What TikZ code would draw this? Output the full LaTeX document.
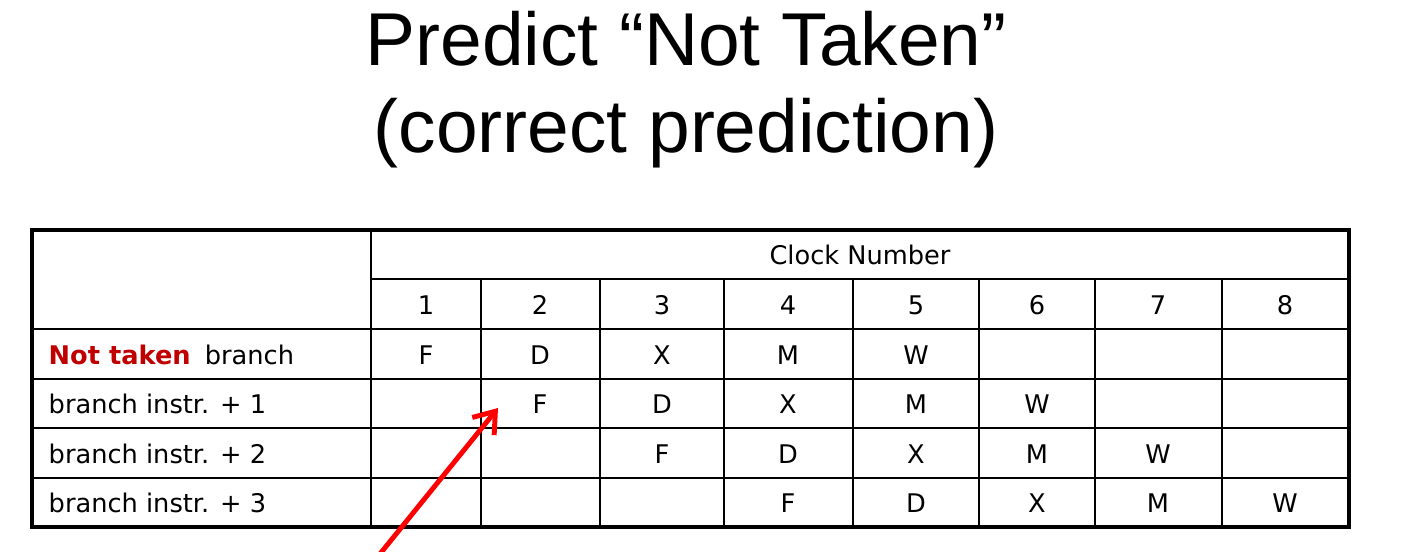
\documentclass[tikz,border=0pt]{standalone}
\usepackage{fontspec}
\setmainfont{Liberation Sans}
\newfontfamily\tablefont{DejaVu Sans}
\usetikzlibrary{arrows.meta}
\definecolor{notred}{RGB}{192,0,0}

\begin{document}
\begin{tikzpicture}[
    x=0.01cm, y=-0.01cm,
    title/.style={font=\fontsize{21.3}{25}\selectfont, inner sep=0pt, anchor=base},
    cell/.style={font=\tablefont\fontsize{7.3}{9}\selectfont, inner sep=0pt, anchor=base},
    rowlabel/.style={cell, anchor=base west},
    grid/.style={line width=0.6pt},
    frame/.style={line width=1.3pt},
    pointer/.style={-{Straight Barb[length=5.5pt, width=8pt]}, line width=1.4pt, red}
]
    \useasboundingbox (0,0) rectangle (1407,551);

    \node[title] at (686,65) (t1) {Predict “Not Taken”};
    \node[title] at (686,152) (t2) {(correct prediction)};

    % table lines
    \draw[frame] (32,230) rectangle (1349,527);
    \draw[grid] (371,230) -- (371,527);
    \draw[grid] (371,279) -- (1349,279);
    \draw[grid] (32,329) -- (1349,329);
    \draw[grid] (32,379) -- (1349,379);
    \draw[grid] (32,428) -- (1349,428);
    \draw[grid] (32,478) -- (1349,478);
    \draw[grid] (481,279) -- (481,527);
    \draw[grid] (600,279) -- (600,527);
    \draw[grid] (724,279) -- (724,527);
    \draw[grid] (853,279) -- (853,527);
    \draw[grid] (979,279) -- (979,527);
    \draw[grid] (1095,279) -- (1095,527);
    \draw[grid] (1222,279) -- (1222,527);

    % header
    \node[cell] at (860,264) (clock) {Clock Number};
    \node[cell] at (426,314) (h1) {1};
    \node[cell] at (540,314) (h2) {2};
    \node[cell] at (662,314) (h3) {3};
    \node[cell] at (788,314) (h4) {4};
    \node[cell] at (916,314) (h5) {5};
    \node[cell] at (1037,314) (h6) {6};
    \node[cell] at (1158,314) (h7) {7};
    \node[cell] at (1285,314) (h8) {8};

    % row labels
    \node[rowlabel] at (48,364) (l1) {{\bfseries\color{notred}Not taken}\hspace{4pt}branch};
    \node[rowlabel] at (48,413) (l2) {branch instr. + 1};
    \node[rowlabel] at (48,463) (l3) {branch instr. + 2};
    \node[rowlabel] at (48,512) (l4) {branch instr. + 3};

    % pipeline stages
    \node[cell] at (426,364) (a1) {F};
    \node[cell] at (540,364) (a2) {D};
    \node[cell] at (662,364) (a3) {X};
    \node[cell] at (788,364) (a4) {M};
    \node[cell] at (916,364) (a5) {W};

    \node[cell] at (540,413) (b2) {F};
    \node[cell] at (662,413) (b3) {D};
    \node[cell] at (788,413) (b4) {X};
    \node[cell] at (916,413) (b5) {M};
    \node[cell] at (1037,413) (b6) {W};

    \node[cell] at (662,463) (c3) {F};
    \node[cell] at (788,463) (c4) {D};
    \node[cell] at (916,463) (c5) {X};
    \node[cell] at (1037,463) (c6) {M};
    \node[cell] at (1158,463) (c7) {W};

    \node[cell] at (788,512) (d4) {F};
    \node[cell] at (916,512) (d5) {D};
    \node[cell] at (1037,512) (d6) {X};
    \node[cell] at (1158,512) (d7) {M};
    \node[cell] at (1285,512) (d8) {W};

    % arrow into the table
    \coordinate (tail) at (371,565);
    \coordinate (tip) at (498,408);
    \draw[pointer] (tail) -- (tip);
\end{tikzpicture}
\end{document}
